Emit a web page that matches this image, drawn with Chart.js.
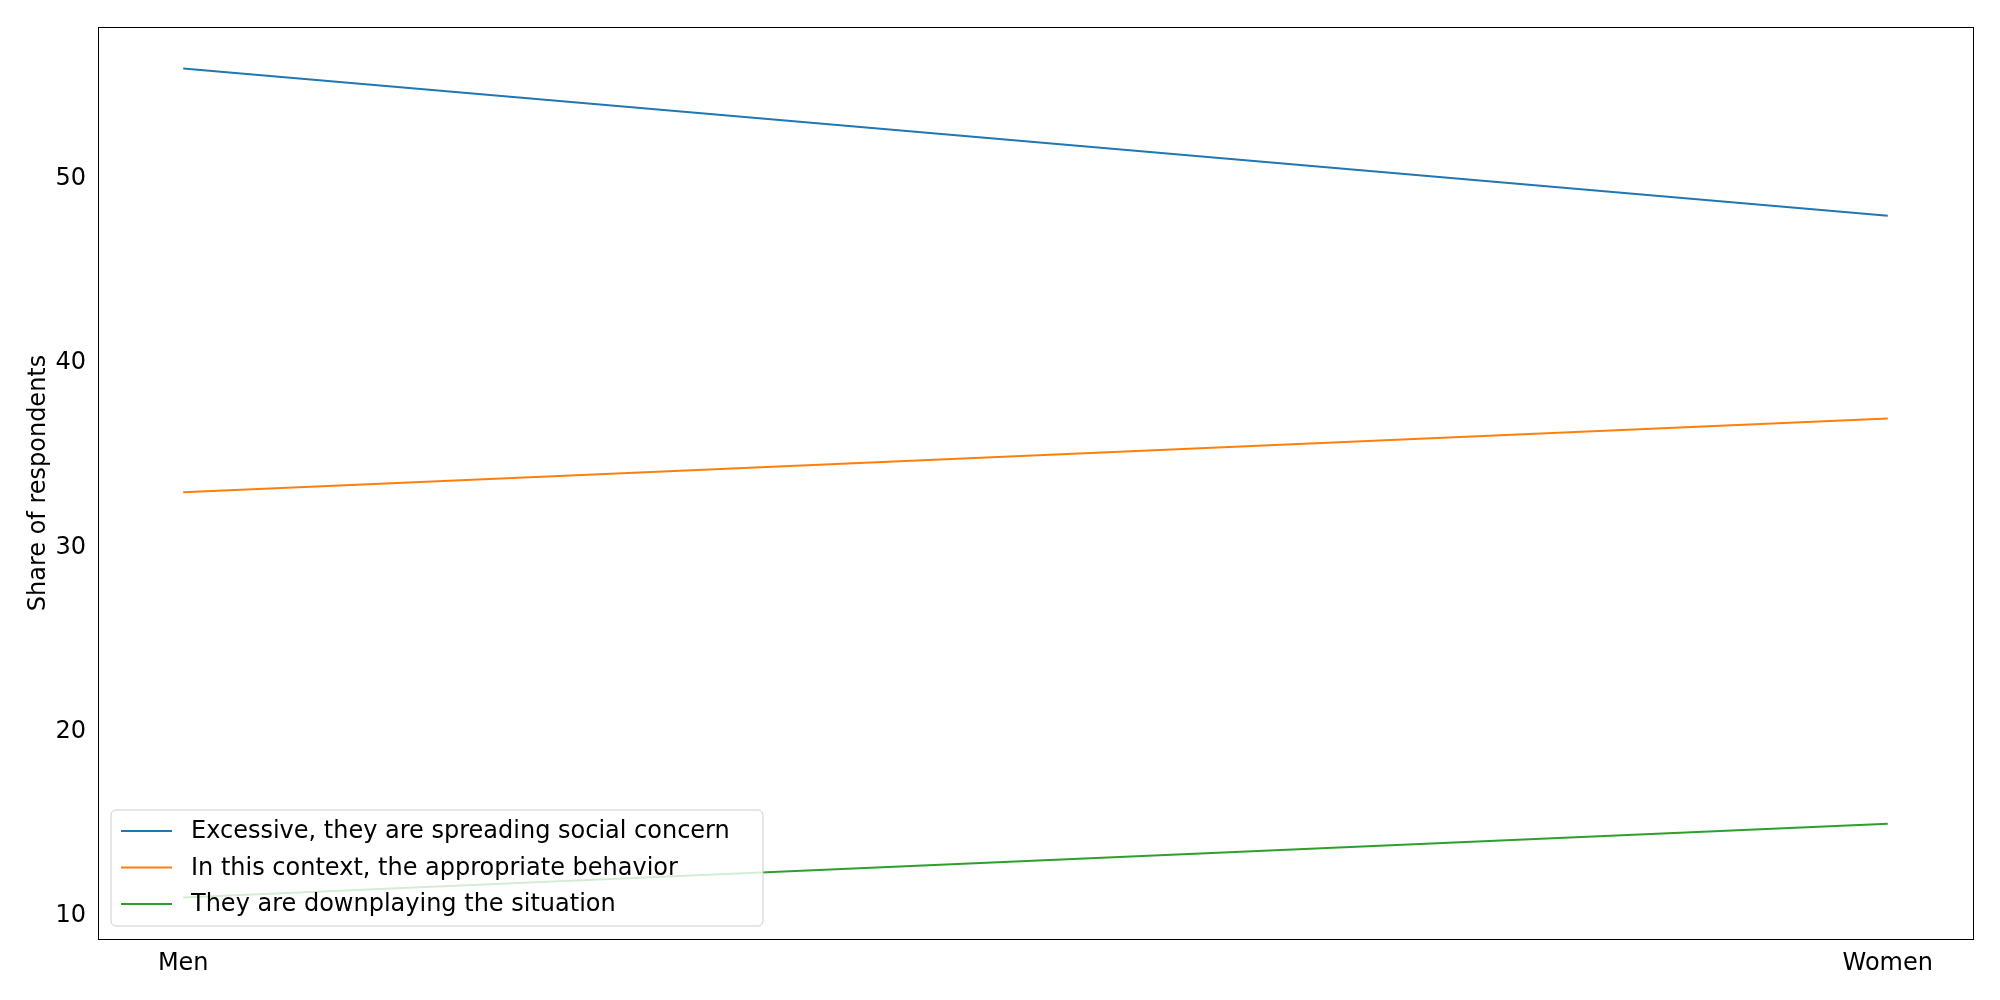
<!DOCTYPE html>
<html><head><meta charset="utf-8">
<script src="https://cdn.jsdelivr.net/npm/chart.js@4"></script>
<style>html,body{margin:0;background:#fff}#wrap{width:2000px;height:1000px}</style>
</head><body><div id="wrap"><canvas id="c"></canvas></div>
<script>
const groups = ["Men", "Women"];
const seriesNames = ["Excessive, they are spreading social concern", "In this context, the appropriate behavior", "They are downplaying the situation"];
const excessive = [56, 48];
const appropriate = [33, 37];
const downplaying = [11, 15];
const colors = ["#1f77b4", "#ff7f0e", "#2ca02c"];
const yTicks = [10, 20, 30, 40, 50];

const allSeries = [excessive, appropriate, downplaying];
const font = "'DejaVu Sans', sans-serif";

const insideLegend = {
    id: "insideLegend",
    afterDraw(chart) {
        const ctx = chart.ctx;
        const x = 111, y = 810, w = 652, h = 116;
        ctx.save();
        ctx.fillStyle = "rgba(255,255,255,0.8)";
        ctx.strokeStyle = "#cccccc";
        ctx.lineWidth = 1;
        ctx.beginPath();
        ctx.roundRect(x, y, w, h, 5);
        ctx.fill();
        ctx.stroke();
        ctx.font = "24px " + font;
        ctx.textBaseline = "middle";
        seriesNames.forEach((name, i) => {
            const ly = y + 21 + i * 36.5;
            ctx.strokeStyle = colors[i];
            ctx.lineWidth = 2;
            ctx.beginPath();
            ctx.moveTo(121, ly);
            ctx.lineTo(172, ly);
            ctx.stroke();
            ctx.fillStyle = "#000";
            ctx.fillText(name, 191, ly + 1);
        });
        ctx.restore();
    }
};

new Chart(document.getElementById("c"), {
    type: "line",
    data: {
        datasets: seriesNames.map((name, i) => ({
            label: name,
            data: groups.map((g, j) => ({ x: j, y: allSeries[i][j] })),
            borderColor: colors[i],
            borderWidth: 2,
            pointRadius: 0,
            fill: false
        }))
    },
    options: {
        responsive: true,
        maintainAspectRatio: false,
        animation: false,
        devicePixelRatio: 1,
        layout: { padding: { top: 27, right: 27, left: 0, bottom: 0 } },
        plugins: { legend: { display: false }, tooltip: { enabled: false } },
        scales: {
            x: {
                type: "linear",
                min: -0.05, max: 1.05,
                grid: { display: false, drawTicks: true, tickLength: 6, tickColor: "#000" },
                border: { color: "#000", width: 1 },
                afterBuildTicks: s => { s.ticks = groups.map((g, j) => ({ value: j })); },
                afterFit: s => { s.height = 61; },
                ticks: { color: "#000", font: { size: 24, family: font }, padding: 4,
                    callback: v => groups[v] }
            },
            y: {
                min: 8.75, max: 58.25,
                grid: { display: false, drawTicks: true, tickLength: 6, tickColor: "#000" },
                border: { color: "#000", width: 1 },
                afterBuildTicks: s => { s.ticks = yTicks.map(v => ({ value: v })); },
                afterFit: s => { s.width = 98; },
                title: { display: true, text: "Share of respondents", color: "#000",
                    font: { size: 24, family: font }, padding: { top: 24, bottom: 0 } },
                ticks: { color: "#000", font: { size: 24, family: font }, padding: 6 }
            }
        }
    },
    plugins: [insideLegend, {
        id: "frame",
        afterDraw(chart) {
            const a = chart.chartArea, ctx = chart.ctx;
            ctx.save();
            ctx.strokeStyle = "#000"; ctx.lineWidth = 1;
            ctx.strokeRect(a.left + 0.5, a.top + 0.5, a.right - a.left, a.bottom - a.top);
            ctx.restore();
        }
    }]
});
</script></body></html>
